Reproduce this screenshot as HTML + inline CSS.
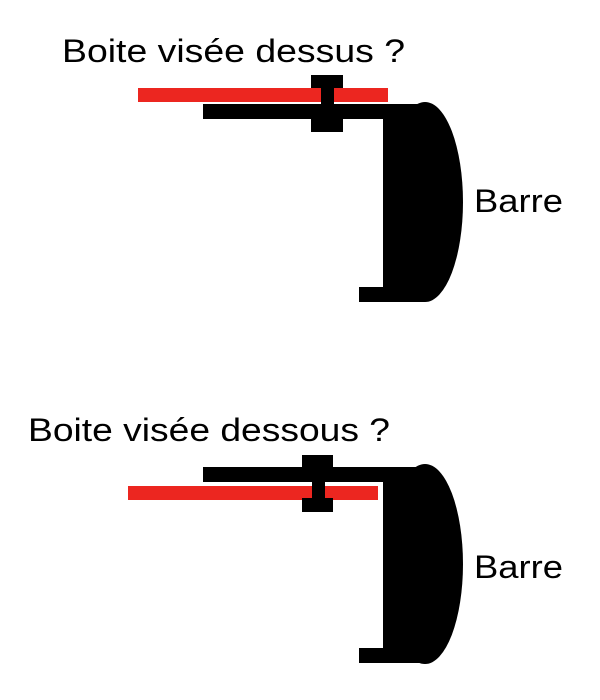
<!DOCTYPE html>
<html><head><meta charset="utf-8"><style>
html,body{margin:0;padding:0;background:#fff;width:600px;height:700px;overflow:hidden}
text{font-family:"Liberation Sans",sans-serif;font-size:32px;fill:#000}
</style></head><body>
<svg width="600" height="700" viewBox="0 0 600 700" xmlns="http://www.w3.org/2000/svg">
<text x="62" y="62" textLength="343" lengthAdjust="spacingAndGlyphs">Boite visée dessus ?</text>
<rect x="138" y="88" width="250" height="14" fill="#ec2620"/>
<rect x="203" y="104" width="220" height="15" fill="#000"/>
<rect x="311" y="75" width="32" height="13" fill="#000"/>
<rect x="321" y="75" width="13" height="57" fill="#000"/>
<rect x="311" y="104" width="32" height="28" fill="#000"/>
<rect x="383" y="104" width="42" height="198" fill="#000"/>
<rect x="359" y="287" width="64" height="15" fill="#000"/>
<ellipse cx="425" cy="202" rx="38" ry="100" fill="#000"/>
<text x="474" y="212" textLength="89" lengthAdjust="spacingAndGlyphs">Barre</text>

<text x="28" y="441" textLength="362" lengthAdjust="spacingAndGlyphs">Boite visée dessous ?</text>
<rect x="203" y="467" width="220" height="15" fill="#000"/>
<rect x="302" y="455" width="31" height="27" fill="#000"/>
<rect x="128" y="486" width="250" height="14" fill="#ec2620"/>
<rect x="312" y="455" width="13" height="57" fill="#000"/>
<rect x="302" y="498" width="31" height="14" fill="#000"/>
<rect x="383" y="467" width="42" height="196" fill="#000"/>
<rect x="359" y="648" width="64" height="15" fill="#000"/>
<ellipse cx="425" cy="564" rx="38" ry="100" fill="#000"/>
<text x="474" y="578" textLength="89" lengthAdjust="spacingAndGlyphs">Barre</text>
</svg>
</body></html>
